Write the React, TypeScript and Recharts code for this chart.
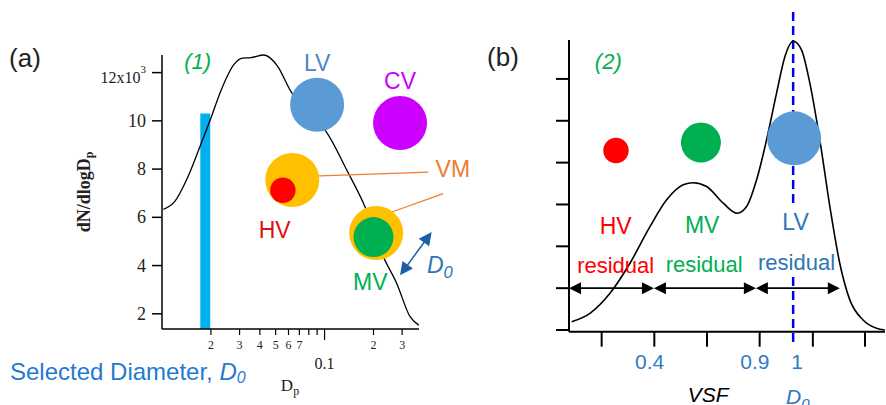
import React from 'react';
import {
  ComposedChart, Line, XAxis, YAxis,
  ReferenceArea, ReferenceDot, ReferenceLine,
} from 'recharts';

const SANS = '"Liberation Sans", Arial, sans-serif';
const SERIF = '"Liberation Serif", "Times New Roman", serif';

// ---------------- Panel (a): number size distribution ----------------
const dpA = [0.0102, 0.0119, 0.0144, 0.0172, 0.0200, 0.0230, 0.0278, 0.0313, 0.0352, 0.0424,
  0.0512, 0.0618, 0.0763, 0.1012, 0.1374, 0.1778, 0.2301, 0.2780, 0.3357, 0.3800];
const dNdlogDpA = [6.33, 6.63, 7.66, 8.97, 10.12, 11.24, 12.35, 12.60, 12.62, 12.73,
  12.28, 11.24, 10.33, 9.59, 7.94, 6.42, 4.36, 3.26, 1.88, 1.53];
const xTicksA = [0.02, 0.03, 0.04, 0.05, 0.06, 0.07, 0.08, 0.09, 0.1, 0.2, 0.3];
const xTickLabelsA = ['2', '3', '4', '5', '6', '7', '', '', '0.1', '2', '3'];
const yTicksA = [2, 4, 6, 8, 10, 12];
const yTickLabelsA = ['2', '4', '6', '8', '10', '12x10'];
const selectedBandA = [0.0172, 0.0198];
const selectedTopA = 10.3;

const circleKeysA = ['LV', 'CV', 'VM1', 'HV', 'VM2', 'MV'];
const circleDpA = [0.0900, 0.2913, 0.0633, 0.0554, 0.2077, 0.2000];
const circleYA = [10.67, 9.91, 7.55, 7.12, 5.35, 5.18];

const annKeysA = ['(1)', 'LV', 'CV', 'HV', 'MV', 'VM', 'D0'];
const annDpA = [0.01658, 0.0900, 0.2913, 0.0493, 0.1910, 0.6152, 0.5122];
const annYA = [12.48, 12.41, 11.66, 5.46, 3.32, 8.02, 4.01];

const leaderFromA = [[0.0763, 7.70], [0.2471, 6.17]];
const leaderToA = [[0.4343, 7.87], [0.5366, 6.98]];
const d0ArrowA = [[0.2913, 3.60], [0.4556, 5.39]];

// ---------------- Panel (b): VSF distribution ----------------
const vsfB = [0.051, 0.398, 0.778, 1.157, 1.537, 1.854, 2.169, 2.359, 2.613, 2.928, 3.194, 3.372, 3.562,
  3.751, 3.941, 4.099, 4.256, 4.416, 4.573, 4.763, 4.953, 5.142, 5.332, 5.584, 5.839, 5.996];
const freqB = [0.198, 0.399, 0.877, 1.595, 2.47, 3.11, 3.47, 3.52, 3.43, 3.03, 2.79, 2.95, 3.59,
  4.54, 5.66, 6.53, 6.90, 6.69, 5.90, 4.54, 2.95, 1.59, 0.72, 0.24, 0.04, 0.0];
const xTicksB = [0.62, 1.62, 2.62, 3.62, 4.63, 5.62];
const yTicksB = [0, 1, 2, 3, 4, 5, 6];

const circleKeysB = ['HV', 'MV', 'LV'];
const circleXB = [0.892, 2.505, 4.275];
const circleYB = [4.29, 4.48, 4.58];

const annKeysB = ['(2)', 'HV', 'MV', 'LV', 'resHV', 'resMV', 'resLV', '0.4', '0.9', '1', 'VSF', 'D0'];
const annXB = [0.746, 0.886, 2.529, 4.302, 0.886, 2.567, 4.321, 1.53, 3.53, 4.33, 2.643, 4.345];
const annYB = [6.41, 2.49, 2.51, 2.59, 1.55, 1.57, 1.62, -0.76, -0.76, -0.76, -1.55, -1.60];

const rangeArrowsB = [[0, 1.613], [1.613, 3.548], [3.548, 5.142]];
const rangeArrowY = 1.0;
const d0LineB = 4.256;
const d0LineSegmentsB = [[7.6, 2.94], [1.27, -0.36]];

// ---------------- styles ----------------
const BLUE_C = '#5b9bd5';
const CIRCLE_STYLE: Record<string, { r: number; fill: string }> = {
  LV: { r: 27, fill: BLUE_C },
  CV: { r: 27, fill: '#cc00ff' },
  VM1: { r: 27, fill: '#ffc000' },
  HV: { r: 12.7, fill: '#ff0000' },
  VM2: { r: 27, fill: '#ffc000' },
  MV: { r: 20, fill: '#00b050' },
};
const CIRCLE_STYLE_B: Record<string, { r: number; fill: string }> = {
  HV: { r: 12.7, fill: '#ff0000' },
  MV: { r: 20, fill: '#00b050' },
  LV: { r: 27, fill: BLUE_C },
};
type AnnStyle = { text: string; sub?: string; color: string; size: number; italic?: boolean };
const ANN_STYLE_A: Record<string, AnnStyle> = {
  '(1)': { text: '(1)', color: '#00b050', size: 22, italic: true },
  LV: { text: 'LV', color: '#4a86c8', size: 23 },
  CV: { text: 'CV', color: '#cc00ff', size: 23 },
  HV: { text: 'HV', color: '#dd1111', size: 23 },
  MV: { text: 'MV', color: '#00b050', size: 23 },
  VM: { text: 'VM', color: '#ed7d31', size: 23 },
  D0: { text: 'D', sub: '0', color: '#2e75b6', size: 23, italic: true },
};
const ANN_STYLE_B: Record<string, AnnStyle> = {
  '(2)': { text: '(2)', color: '#00b050', size: 22, italic: true },
  HV: { text: 'HV', color: '#ff0000', size: 23 },
  MV: { text: 'MV', color: '#00b050', size: 23 },
  LV: { text: 'LV', color: '#2e75b6', size: 23 },
  resHV: { text: 'residual', color: '#ff0000', size: 22 },
  resMV: { text: 'residual', color: '#00b050', size: 22 },
  resLV: { text: 'residual', color: '#2e75b6', size: 22 },
  '0.4': { text: '0.4', color: '#2e7bc4', size: 21 },
  '0.9': { text: '0.9', color: '#2e7bc4', size: 21 },
  '1': { text: '1', color: '#2e7bc4', size: 21 },
  VSF: { text: 'VSF', color: '#000', size: 21, italic: true },
  D0: { text: 'D', sub: '0', color: '#2e75b6', size: 21, italic: true },
};

// ---------------- tables ----------------
const lineA = dpA.map((x, i) => ({ x, y: dNdlogDpA[i] }));
const circlesA = circleKeysA.map((key, i) => ({ key, x: circleDpA[i], y: circleYA[i] }));
const lineB = vsfB.map((x, i) => ({ x, y: freqB[i] }));
const circlesB = circleKeysB.map((key, i) => ({ key, x: circleXB[i], y: circleYB[i] }));

// ---------------- renderers ----------------
const labelShape = (s: AnnStyle) => (p: any) => (
  <text x={p.cx} y={p.cy} textAnchor="middle" dominantBaseline="central"
    fontFamily={SANS} fontSize={s.size} fill={s.color} fontStyle={s.italic ? 'italic' : 'normal'}>
    {s.text}
    {s.sub ? <tspan fontSize={s.size * 0.72} dy={s.size * 0.28}>{s.sub}</tspan> : null}
  </text>
);

const circleDot = (styles: Record<string, { r: number; fill: string }>) => (p: any) => {
  const s = styles[p.payload.key];
  return <circle key={`c-${p.payload.key}`} cx={p.cx} cy={p.cy} r={s.r} fill={s.fill} />;
};

const arrowHead = (x: number, y: number, ux: number, uy: number, len: number, half: number, color: string, k: string) => {
  const bx = x - ux * len, by = y - uy * len;
  const px = -uy, py = ux;
  return <polygon key={k} points={`${x},${y} ${bx + px * half},${by + py * half} ${bx - px * half},${by - py * half}`} fill={color} />;
};

const doubleArrow = (color: string, width: number, len: number, half: number) => (p: any) => {
  const { x1, y1, x2, y2 } = p;
  const dx = x2 - x1, dy = y2 - y1;
  const L = Math.sqrt(dx * dx + dy * dy) || 1;
  const ux = dx / L, uy = dy / L;
  return (
    <g>
      <line x1={x1 + ux * len * 0.8} y1={y1 + uy * len * 0.8} x2={x2 - ux * len * 0.8} y2={y2 - uy * len * 0.8}
        stroke={color} strokeWidth={width} />
      {arrowHead(x2, y2, ux, uy, len, half, color, 'h2')}
      {arrowHead(x1, y1, -ux, -uy, len, half, color, 'h1')}
    </g>
  );
};

const XTickA = (props: any) => {
  const { x, y, payload } = props;
  const idx = xTicksA.indexOf(payload.value);
  const lbl = xTickLabelsA[idx] ?? '';
  const big = payload.value === 0.1;
  return (
    <g>
      <line x1={x} x2={x} y1={y} y2={y + (big ? 11 : 6)} stroke="#000" strokeWidth={1.2} />
      <text x={x} y={y + (big ? 34 : 16)} textAnchor="middle" dominantBaseline="central"
        fontFamily={SERIF} fontSize={big ? 16 : 12} fill="#222">{lbl}</text>
    </g>
  );
};

const YTickA = (props: any) => {
  const { x, y, payload } = props;
  const idx = yTicksA.indexOf(payload.value);
  const lbl = yTickLabelsA[idx] ?? '';
  const isTop = payload.value === 12;
  return (
    <g>
      <line x1={x} x2={x - 10} y1={y} y2={y} stroke="#000" strokeWidth={1.5} />
      {isTop ? (
        <text x={x - 16} y={y + 5} textAnchor="end" dominantBaseline="central" fontFamily={SERIF} fontSize={16} fill="#222">
          {lbl}<tspan fontSize={11} dy={-9}>3</tspan>
        </text>
      ) : (
        <text x={x - 16} y={y} textAnchor="end" dominantBaseline="central" fontFamily={SERIF} fontSize={18} fill="#222">{lbl}</text>
      )}
    </g>
  );
};

const XTickB = (props: any) => {
  const { x, y } = props;
  return <line x1={x} x2={x} y1={y} y2={y + 15} stroke="#000" strokeWidth={2} />;
};
const YTickB = (props: any) => {
  const { x, y } = props;
  return <line x1={x} x2={x - 13} y1={y} y2={y} stroke="#000" strokeWidth={2} />;
};

export default function App() {
  return (
    <div style={{ position: 'absolute', left: 0, top: 0, width: 886, height: 405, background: '#fff', overflow: 'hidden' }}>
      <div style={{ position: 'absolute', left: 0, top: 0 }}>
        <ComposedChart width={490} height={405} margin={{ top: 55, right: 71, bottom: 46, left: 102 }}>
          <XAxis type="number" scale="log" dataKey="x" domain={[0.01, 0.381]} ticks={xTicksA} interval={0}
            tick={(p: any) => <XTickA {...p} />} tickLine={false} tickSize={0} tickMargin={0} height={30}
            axisLine={{ stroke: '#000', strokeWidth: 1.5 }} />
          <YAxis type="number" dataKey="y" domain={[1.37, 12.69]} ticks={yTicksA} interval={0} width={60}
            tick={(p: any) => <YTickA {...p} />} tickLine={false} tickSize={0} tickMargin={0}
            axisLine={{ stroke: '#000', strokeWidth: 1.5 }} />
          <Line data={lineA} type="monotone" dataKey="y" stroke="#000" strokeWidth={1.3} dot={false}
            activeDot={false} isAnimationActive={false} />
          <Line data={circlesA} dataKey="y" stroke="none" dot={circleDot(CIRCLE_STYLE)}
            activeDot={false} isAnimationActive={false} />
          <ReferenceArea x1={selectedBandA[0]} x2={selectedBandA[1]} y1={1.37} y2={selectedTopA}
            fill="#00b0f0" fillOpacity={1} stroke="none" ifOverflow="visible" />
          {leaderFromA.map((f, i) => (
            <ReferenceLine key={`ld${i}`} segment={[{ x: f[0], y: f[1] }, { x: leaderToA[i][0], y: leaderToA[i][1] }]}
              stroke="#ed7d31" strokeWidth={1.2} ifOverflow="visible" />
          ))}
          <ReferenceLine segment={[{ x: d0ArrowA[0][0], y: d0ArrowA[0][1] }, { x: d0ArrowA[1][0], y: d0ArrowA[1][1] }]}
            ifOverflow="visible" shape={doubleArrow('#1d5fa5', 1.5, 13, 6.5)} />
          {annKeysA.map((k, i) => (
            <ReferenceDot key={`aa${i}`} x={annDpA[i]} y={annYA[i]} r={0} ifOverflow="visible"
              shape={labelShape(ANN_STYLE_A[k])} />
          ))}
        </ComposedChart>
      </div>

      <div style={{ position: 'absolute', left: 450, top: 0 }}>
        <ComposedChart width={436} height={405} margin={{ top: 40, right: 1, bottom: 43.3, left: 59 }}>
          <XAxis type="number" dataKey="x" domain={[0, 6]} ticks={xTicksB} interval={0}
            tick={(p: any) => <XTickB {...p} />} tickLine={false} tickSize={0} tickMargin={0} height={30}
            axisLine={{ stroke: '#000', strokeWidth: 2 }} />
          <YAxis type="number" dataKey="y" domain={[-0.04, 6.93]} ticks={yTicksB} interval={0} width={60}
            tick={(p: any) => <YTickB {...p} />} tickLine={false} tickSize={0} tickMargin={0}
            axisLine={{ stroke: '#000', strokeWidth: 2 }} />
          {d0LineSegmentsB.map((s, i) => (
            <ReferenceLine key={`dl${i}`} segment={[{ x: d0LineB, y: s[0] }, { x: d0LineB, y: s[1] }]} ifOverflow="visible"
              stroke="#0000ee" strokeWidth={2.5} strokeDasharray="9 5" />
          ))}
          {rangeArrowsB.map((r, i) => (
            <ReferenceLine key={`ra${i}`} segment={[{ x: r[0], y: rangeArrowY }, { x: r[1], y: rangeArrowY }]}
              ifOverflow="visible" shape={doubleArrow('#000', 1.8, 12, 6)} />
          ))}
          {annKeysB.map((k, i) => (
            <ReferenceDot key={`ab${i}`} x={annXB[i]} y={annYB[i]} r={0} ifOverflow="visible"
              shape={labelShape(ANN_STYLE_B[k])} />
          ))}
          <Line data={lineB} type="monotone" dataKey="y" stroke="#000" strokeWidth={1.6} dot={false}
            activeDot={false} isAnimationActive={false} />
          <Line data={circlesB} dataKey="y" stroke="none" dot={circleDot(CIRCLE_STYLE_B)}
            activeDot={false} isAnimationActive={false} />
        </ComposedChart>
      </div>

      <svg width={886} height={405} style={{ position: 'absolute', left: 0, top: 0, pointerEvents: 'none' }}>
        <text x={25} y={58} textAnchor="middle" dominantBaseline="central" fontFamily={SANS} fontSize={26} fill="#222">(a)</text>
        <text x={503} y={57} textAnchor="middle" dominantBaseline="central" fontFamily={SANS} fontSize={26} fill="#222">(b)</text>
        <text x={10} y={371} dominantBaseline="central" fontFamily={SANS} fontSize={24} fill="#1f7ad0">
          Selected Diameter, <tspan fontStyle="italic">D</tspan><tspan fontStyle="italic" fontSize={16} dy={6}>0</tspan>
        </text>
        <text x={0} y={0} transform="translate(84,192) rotate(-90)" textAnchor="middle" dominantBaseline="central"
          fontFamily={SERIF} fontWeight="bold" fontSize={18} fill="#222">
          dN/dlogD<tspan fontSize={12} dy={5}>p</tspan>
        </text>
        <text x={290} y={385} textAnchor="middle" dominantBaseline="central" fontFamily={SERIF} fontSize={17} fill="#222">
          D<tspan fontSize={12} dy={6}>p</tspan>
        </text>
      </svg>
    </div>
  );
}
